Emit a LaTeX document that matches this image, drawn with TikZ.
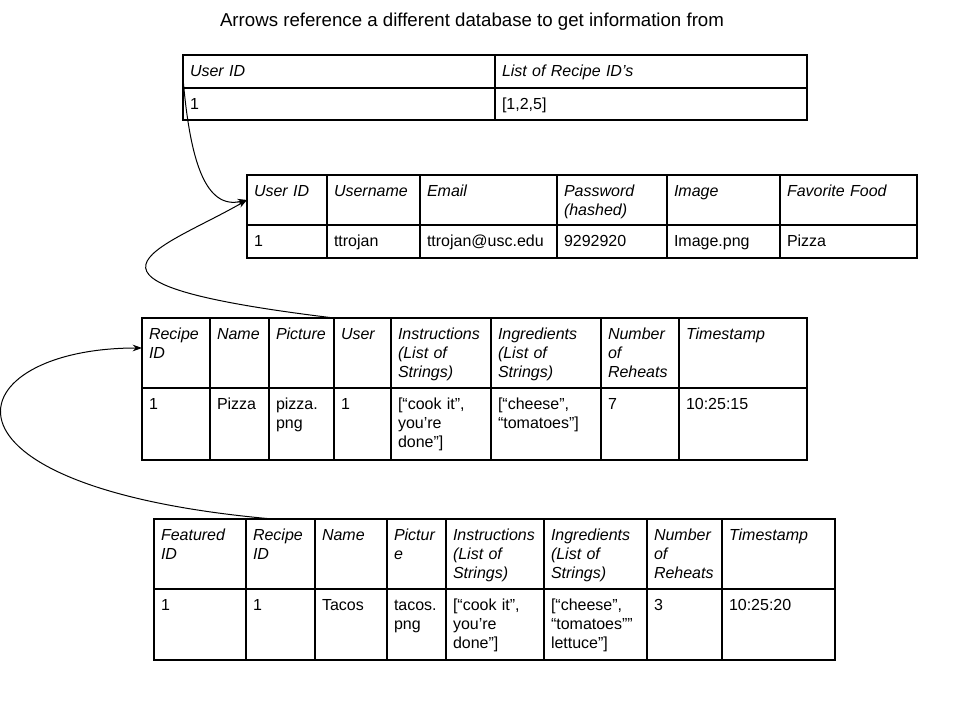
\documentclass[tikz,border=0pt]{standalone}
\usepackage{fontspec}
\setmainfont{Liberation Sans}
\usetikzlibrary{arrows.meta}

\begin{document}
\begin{tikzpicture}
    %% setup
    [
        x=0.75pt, y=-0.75pt,
        >={Stealth[length=7pt,width=5pt]},
        cell/.style 2 args={draw, line width=0.9pt, anchor=north west, outer sep=0pt, align=left,
            inner xsep=5.25pt, inner ysep=7pt, text height=9pt,
            text width={#1*0.75pt-10.5pt}, text depth={#2*0.75pt-23pt},
            font=\fontsize{12}{14.25}\selectfont},
        headcell/.style 2 args={cell={#1}{#2}, font=\fontsize{12}{14.25}\selectfont\itshape},
        link/.style={->, line width=0.75pt},
    ]
    \useasboundingbox (0,0) rectangle (960,720);

    %% Title
    \node [font=\fontsize{14}{17}\selectfont] (title) at (472,22) {Arrows reference a different database to get information from};

    %% Recipe list of a user
    \node [headcell={312}{33}] (listuid) at (183,55) {User ID};
    \node [headcell={312}{33}] (listrids) at (listuid.north east) {List of Recipe ID’s};
    \node [cell={312}{32}] (listuidv) at (listuid.south west) {1};
    \node [cell={312}{32}] (listridsv) at (listuidv.north east) {[1,2,5]};

    %% Users
    \node [headcell={80}{50}] (useruid) at (247,175) {User ID};
    \node [headcell={93}{50}] (username) at (useruid.north east) {Username};
    \node [headcell={137}{50}] (useremail) at (username.north east) {Email};
    \node [headcell={110}{50}] (userpass) at (useremail.north east) {Password\\(hashed)};
    \node [headcell={113}{50}] (userimage) at (userpass.north east) {Image};
    \node [headcell={137}{50}] (userfood) at (userimage.north east) {Favorite Food};
    \node [cell={80}{33}] (useruidv) at (useruid.south west) {1};
    \node [cell={93}{33}] (usernamev) at (useruidv.north east) {ttrojan};
    \node [cell={137}{33}] (useremailv) at (usernamev.north east) {ttrojan@usc.edu};
    \node [cell={110}{33}] (userpassv) at (useremailv.north east) {9292920};
    \node [cell={113}{33}] (userimagev) at (userpassv.north east) {Image.png};
    \node [cell={137}{33}] (userfoodv) at (userimagev.north east) {Pizza};

    %% Recipes
    \node [headcell={68}{70}] (recid) at (142,318) {Recipe\\ID};
    \node [headcell={59}{70}] (recname) at (recid.north east) {Name};
    \node [headcell={65}{70}] (recpic) at (recname.north east) {Picture};
    \node [headcell={57}{70}] (recuser) at (recpic.north east) {User};
    \node [headcell={100}{70}] (recinstr) at (recuser.north east) {Instructions\\(List of\\Strings)};
    \node [headcell={110}{70}] (recingr) at (recinstr.north east) {Ingredients\\(List of\\Strings)};
    \node [headcell={78}{70}] (recreheat) at (recingr.north east) {Number\\of\\Reheats};
    \node [headcell={128}{70}] (rectime) at (recreheat.north east) {Timestamp};
    \node [cell={68}{72}] (recidv) at (recid.south west) {1};
    \node [cell={59}{72}] (recnamev) at (recidv.north east) {Pizza};
    \node [cell={65}{72}] (recpicv) at (recnamev.north east) {pizza.\\png};
    \node [cell={57}{72}] (recuserv) at (recpicv.north east) {1};
    \node [cell={100}{72}] (recinstrv) at (recuserv.north east) {[“cook it”,\\you’re\\done”]};
    \node [cell={110}{72}] (recingrv) at (recinstrv.north east) {[“cheese”,\\“tomatoes”]};
    \node [cell={78}{72}] (recreheatv) at (recingrv.north east) {7};
    \node [cell={128}{72}] (rectimev) at (recreheatv.north east) {10:25:15};

    %% Featured recipes
    \node [headcell={92}{70}] (featid) at (154,519) {Featured\\ID};
    \node [headcell={69}{70}] (featrid) at (featid.north east) {Recipe\\ID};
    \node [headcell={72}{70}] (featname) at (featrid.north east) {Name};
    \node [headcell={59}{70}] (featpic) at (featname.north east) {Pictur\\e};
    \node [headcell={98}{70}] (featinstr) at (featpic.north east) {Instructions\\(List of\\Strings)};
    \node [headcell={103}{70}] (featingr) at (featinstr.north east) {Ingredients\\(List of\\Strings)};
    \node [headcell={75}{70}] (featreheat) at (featingr.north east) {Number\\of\\Reheats};
    \node [headcell={113}{70}] (feattime) at (featreheat.north east) {Timestamp};
    \node [cell={92}{71}] (featidv) at (featid.south west) {1};
    \node [cell={69}{71}] (featridv) at (featidv.north east) {1};
    \node [cell={72}{71}] (featnamev) at (featridv.north east) {Tacos};
    \node [cell={59}{71}] (featpicv) at (featnamev.north east) {tacos.\\png};
    \node [cell={98}{71}] (featinstrv) at (featpicv.north east) {[“cook it”,\\you’re\\done”]};
    \node [cell={103}{71}] (featingrv) at (featinstrv.north east) {[“cheese”,\\“tomatoes””\\lettuce”]};
    \node [cell={75}{71}] (featreheatv) at (featingrv.north east) {3};
    \node [cell={113}{71}] (feattimev) at (featreheatv.north east) {10:25:20};

    %% Lines
    \draw [link] ([yshift=-5pt]listuid.west) .. controls (190,160) and (205,210) .. (useruid.west);
    \draw [link] (recuser.north west) .. controls (37,282) and (160,250) .. (useruid.west);
    \draw [link] ([xshift=-6pt]featrid.north) .. controls (-88,487) and (-43,348) .. ([yshift=3.75pt]recid.west);
\end{tikzpicture}
\end{document}
